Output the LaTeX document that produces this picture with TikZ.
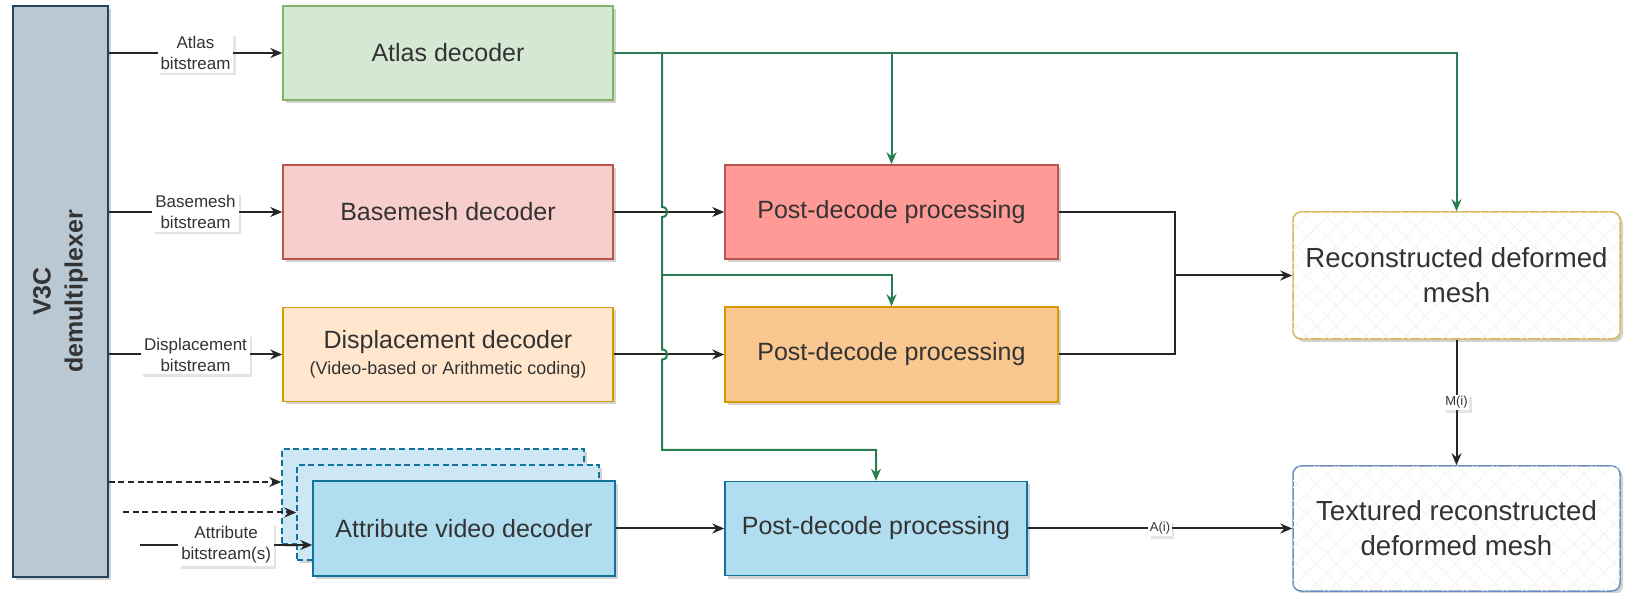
\documentclass[tikz,border=0pt]{standalone}
\usepackage{fontspec}
\setmainfont{Liberation Sans}
\usetikzlibrary{arrows.meta,shadows,patterns.meta,calc}
\definecolor{txt}{HTML}{333333}
\definecolor{cDemux}{HTML}{BAC8D3}\definecolor{cDemuxD}{HTML}{23445D}
\definecolor{cAtlas}{HTML}{D5E8D4}\definecolor{cAtlasD}{HTML}{82B366}
\definecolor{cBase}{HTML}{F8CECC}\definecolor{cBaseD}{HTML}{B85450}
\definecolor{cDisp}{HTML}{FFE6CC}\definecolor{cDispD}{HTML}{D79B00}
\definecolor{cPostR}{HTML}{FF9A96}
\definecolor{cPostO}{HTML}{F9C78F}
\definecolor{cAttr}{HTML}{B1DDF0}\definecolor{cAttrD}{HTML}{10739E}
\definecolor{cAttrB}{HTML}{CDE8F4}
\definecolor{cMeshD}{HTML}{D6B656}\definecolor{cTexD}{HTML}{6C8EBF}
\definecolor{cGreen}{HTML}{2A7D50}
\definecolor{cLine}{HTML}{262626}
\begin{document}
\begin{tikzpicture}[x=0.5pt,y=-0.5pt,
  shad/.style={drop shadow={shadow xshift=1.5pt,shadow yshift=-1.5pt,opacity=0.25,fill=black!70}},
  lshad/.style={drop shadow={shadow xshift=1.2pt,shadow yshift=-1.2pt,opacity=0.15,fill=black!70}},
  box/.style={draw, line width=0.75pt, text=txt, font=\fontsize{12.5}{15}\selectfont, align=center, inner sep=0pt, shad},
  lbl/.style={fill=white, text=txt, font=\fontsize{8.5}{10.5}\selectfont, align=center, inner sep=1.5pt, lshad},
  small/.style={fill=white, text=txt, font=\fontsize{6.5}{8}\selectfont, inner sep=0.8pt, lshad},
  arr/.style={draw=cLine, line width=1pt, -{Stealth[length=6pt,width=5pt]}},
  ln/.style={draw=cLine, line width=1pt},
  garr/.style={draw=cGreen, line width=1pt, -{Stealth[length=6pt,width=5pt]}},
  dsh/.style={dash pattern=on 3pt off 1.8pt},
  meshbox/.style={draw, line width=0.75pt, rounded corners=4pt, fill=white, text=txt,
    font=\fontsize{13.8}{17.5}\selectfont, align=center, inner sep=0pt, shad,
    postaction={pattern={Lines[angle=45,distance=7pt,line width=0.5pt]}, pattern color=black!4},
    postaction={pattern={Lines[angle=-45,distance=7pt,line width=0.5pt]}, pattern color=black!4}}
]
\useasboundingbox (0,0) rectangle (1630,593);

% demultiplexer
\node[box, fill=cDemux, draw=cDemuxD, minimum width=47.5pt, minimum height=285.5pt] (demux) at (60.5,291.5) {};
\node[rotate=90, text=txt, font=\bfseries\fontsize{12.5}{16}\selectfont, align=center] (demuxt) at (demux.center) {V3C\\demultiplexer};

% decoders
\node[box, fill=cAtlas, draw=cAtlasD, minimum width=165pt, minimum height=47pt] (atlas) at (448,53) {Atlas decoder};
\node[box, fill=cBase, draw=cBaseD, minimum width=165pt, minimum height=47pt] (base) at (448,212) {Basemesh decoder};
\node[box, fill=cDisp, draw=cDispD, minimum width=165pt, minimum height=47pt] (disp) at (448,354.5) {Displacement decoder\\[-2pt]{\fontsize{9}{11}\selectfont (Video-based or Arithmetic coding)}};

% attribute decoders (stacked)
\node[box, fill=cAttrB, draw=cAttrD, dsh, minimum width=151pt, minimum height=47.5pt] (attb) at (433,496.5) {};
\node[box, fill=cAttrB, draw=cAttrD, dsh, minimum width=151pt, minimum height=47.5pt] (attm) at (448,512.5) {};
\node[box, fill=cAttr, draw=cAttrD, minimum width=151pt, minimum height=47.5pt] (attf) at (464,528.5) {Attribute video decoder};

% post-decode processing
\node[box, fill=cPostR, draw=cBaseD, minimum width=166.5pt, minimum height=47pt] (post1) at (891.5,212) {Post-decode processing};
\node[box, fill=cPostO, draw=cDispD, minimum width=166.5pt, minimum height=47.5pt] (post2) at (891.5,354.5) {Post-decode processing};
\node[box, fill=cAttr, draw=cAttrD, minimum width=151pt, minimum height=47pt] (post3) at (876,528.5) {Post-decode processing};

% meshes
\node[meshbox, draw=cMeshD, minimum width=163.5pt, minimum height=63.5pt] (mesh) at (1456.5,275.5) {Reconstructed deformed\\mesh};
\node[meshbox, draw=cTexD, minimum width=163.5pt, minimum height=62.5pt] (tex) at (1456.5,528.5) {Textured reconstructed\\deformed mesh};

% bitstream inputs
\draw[arr] (demux.east |- atlas.west) -- node[lbl]{Atlas\\bitstream} (atlas.west);
\draw[arr] (demux.east |- base.west) -- node[lbl]{Basemesh\\bitstream} (base.west);
\draw[arr] (demux.east |- disp.west) -- node[lbl]{Displacement\\bitstream} (disp.west);
\coordinate (a1) at ([yshift=7.25pt]attb.west);
\draw[arr, dsh] (demux.east |- a1) -- (a1);
\coordinate (d2s) at (123,512.5);
\draw[arr, dsh] (d2s) -- (attm.west);
\coordinate (a3) at ([yshift=-8.25pt]attf.west);
\coordinate (d3s) at (140,545);
\draw[arr] (d3s) -- node[lbl]{Attribute\\bitstream(s)} (a3);

% decoder -> post
\draw[arr] (base.east) -- (post1.west);
\draw[arr] (disp.east) -- (post2.west);
\draw[arr] (attf.east) -- (post3.west);

% merge to reconstructed mesh
\coordinate (m1) at (1175,212);
\coordinate (m2) at (1175,354.5);
\draw[ln] (post1.east) -- (m1) -- (m2) -- (post2.east);
\draw[arr] (m1 |- mesh.west) -- (mesh.west);
\draw[arr] (mesh.south) -- node[small]{M(i)} (tex.north);
\draw[arr] (post3.east) -- node[small]{A(i)} (tex.west);

% atlas side information (green)
\draw[garr] (atlas.east) -| (mesh.north);
\draw[garr] (post1.north |- atlas.east) -- (post1.north);
\coordinate (gv) at (662,53);
\coordinate (gh) at (662,275);
\draw[garr] (gv) -- (662,207) .. controls (669,207) and (669,217) .. (662,217)
  -- (662,349.5) .. controls (669,349.5) and (669,359.5) .. (662,359.5)
  -- (662,450) -| (post3.north);
\draw[garr] (gh) -| (post2.north);
\end{tikzpicture}
\end{document}
